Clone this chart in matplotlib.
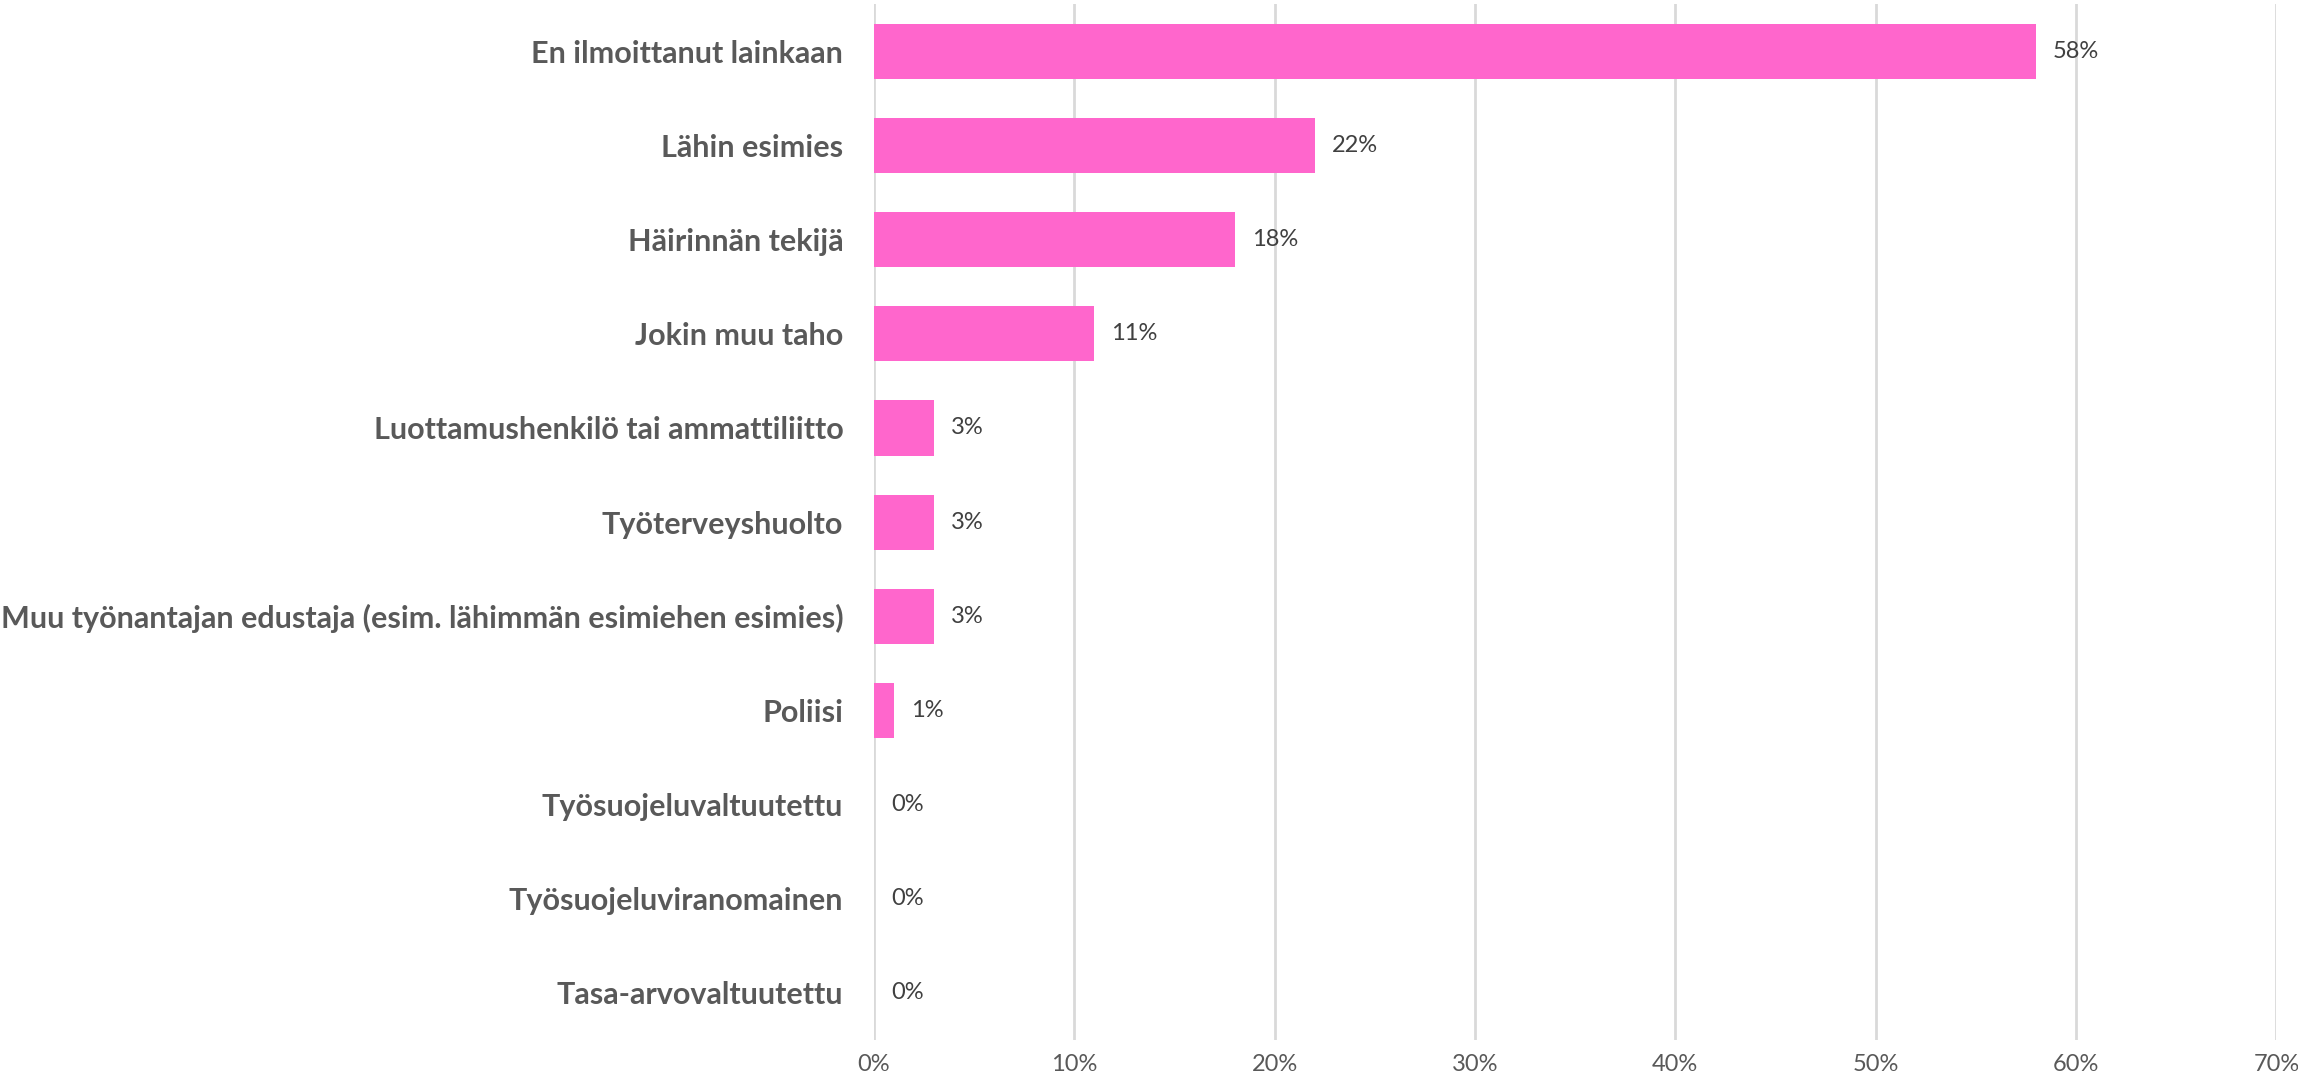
import numpy as np
import matplotlib.pyplot as plt
from matplotlib.ticker import PercentFormatter

plt.rcParams['font.family'] = ['Lato', 'DejaVu Sans']

# --- data ---
categories = [
    "En ilmoittanut lainkaan",
    "Lähin esimies",
    "Häirinnän tekijä",
    "Jokin muu taho",
    "Luottamushenkilö tai ammattiliitto",
    "Työterveyshuolto",
    "Muu työnantajan edustaja (esim. lähimmän esimiehen esimies)",
    "Poliisi",
    "Työsuojeluvaltuutettu",
    "Työsuojeluviranomainen",
    "Tasa-arvovaltuutettu",
]
values = [58, 22, 18, 11, 3, 3, 3, 1, 0, 0, 0]

bar_color = "#FF66CC"
label_color = "#595959"

fig = plt.figure(figsize=(22.98, 10.81), dpi=100)
ax = fig.add_axes([0.3803, 0.038, 0.6103, 0.958])

y = np.arange(len(categories))
ax.barh(y, values, height=0.585, color=bar_color, zorder=3)

for yi, v in zip(y, values):
    ax.text(v + 0.85, yi, f"{v}%", va='center', ha='left', fontsize=17, color="#404040")

ax.set_xlim(0, 70)
ax.set_ylim(len(categories) - 0.5, -0.5)
ax.set_xticks(np.arange(0, 71, 10))
ax.xaxis.set_major_formatter(PercentFormatter(decimals=0))
ax.set_yticks(y)
ax.set_yticklabels(categories, fontsize=22, fontweight='bold', color=label_color)

ax.grid(axis='x', color="#D9D9D9", linewidth=2, zorder=0)
ax.tick_params(axis='x', length=0, labelsize=17, labelcolor=label_color, pad=10)
ax.tick_params(axis='y', length=0, pad=22)
for s in ax.spines.values():
    s.set_visible(False)

fig.savefig("out.png", dpi=100)
